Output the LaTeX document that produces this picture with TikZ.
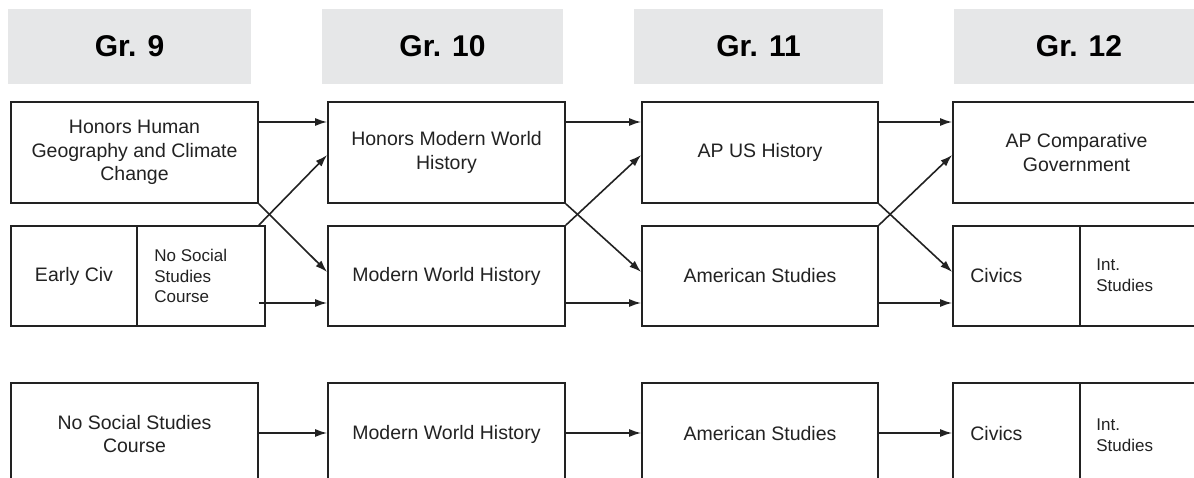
\documentclass[tikz,border=0pt]{standalone}
\usepackage{fontspec}
\setmainfont{Liberation Sans}
\usetikzlibrary{arrows.meta,calc}
\definecolor{hdrgray}{HTML}{E6E7E8}
\definecolor{ink}{HTML}{222222}
\begin{document}
\begin{tikzpicture}[x=1pt,y=-1pt,
  hdr/.style={fill=hdrgray,draw=none,inner sep=0pt,minimum height=75pt,
    font=\fontsize{30}{34}\selectfont\bfseries,text=black},
  box/.style={draw=ink,line width=1.7pt,inner sep=0pt,minimum height=101pt,
    align=center,font=\fontsize{19.5}{23.5}\selectfont,text=ink},
  lbl/.style={inner sep=0pt,align=left,font=\fontsize{19.5}{23.5}\selectfont,text=ink},
  small/.style={inner sep=0pt,align=left,font=\fontsize{17}{20.5}\selectfont,text=ink},
  arr/.style={draw=ink,line width=1.6pt,-{Latex[length=12pt,width=8pt]}}]
\clip (0,0) rectangle (1194,478);
\fill[white] (0,0) rectangle (1194,478);
% header row
\node[hdr,minimum width=243pt] (g9)  at (129.5,46.5) {Gr. 9};
\node[hdr,minimum width=241pt] (g10) at (442.5,46.5) {Gr. 10};
\node[hdr,minimum width=249pt] (g11) at (758.5,46.5) {Gr. 11};
\node[hdr,minimum width=250pt] (g12) at (1079,46.5) {Gr. 12};
% level coordinates
\coordinate (ya) at (0,122);
\coordinate (yb) at (0,155);
\coordinate (yc) at (0,272);
\coordinate (yd) at (0,303);
\coordinate (ye) at (0,433);
% row 1
\node[box,minimum width=247pt] (hhg)  at (134.5,152.5) {Honors Human\\Geography and Climate\\Change};
\node[box,minimum width=237pt] (hmwh) at (446.5,152.5) {Honors Modern World\\History};
\node[box,minimum width=236pt] (apus) at (760,152.5) {AP US History};
\node[box,minimum width=247pt] (apcg) at (1076.5,152.5) {AP Comparative\\Government};
% row 2
\node[box,minimum width=126pt,minimum height=100pt] (ec)   at (74,276) {Early Civ};
\node[box,minimum width=128pt,minimum height=100pt] (nssc) at (201,276) {};
\node[small,anchor=west] (nsscT) at ([xshift=18pt]nssc.west) {No Social\\Studies\\Course};
\node[box,minimum width=237pt,minimum height=100pt] (mwh) at (446.5,276) {Modern World History};
\node[box,minimum width=236pt,minimum height=100pt] (ams) at (760,276) {American Studies};
\node[box,minimum width=127pt,minimum height=100pt] (civ) at (1016.5,276) {};
\node[box,minimum width=120pt,minimum height=100pt] (ints) at (1140,276) {};
\node[lbl,anchor=west] (civT) at ([xshift=18pt]civ.west) {Civics};
\node[small,anchor=west] (intsT) at ([xshift=17pt,yshift=1pt]ints.west) {Int.\\Studies};
% row 3
\node[box,minimum width=247pt,minimum height=102pt] (nss3) at (134.5,434) {No Social Studies\\Course};
\node[box,minimum width=237pt,minimum height=102pt] (mwh3) at (446.5,434) {Modern World History};
\node[box,minimum width=236pt,minimum height=102pt] (ams3) at (760,434) {American Studies};
\node[box,minimum width=127pt,minimum height=102pt] (civ3) at (1016.5,434) {};
\node[box,minimum width=120pt,minimum height=102pt] (ints3) at (1140,434) {};
\node[lbl,anchor=west] (civ3T) at ([xshift=18pt]civ3.west) {Civics};
\node[small,anchor=west] (ints3T) at ([xshift=17pt,yshift=-1pt]ints3.west) {Int.\\Studies};
% arrows column 1 -> 2
\draw[arr] (hhg.east |- ya) -- (hmwh.west |- ya);
\draw[arr] (hhg.south east) -- (mwh.west |- yc);
\draw[arr] (hhg.east |- nssc.north) -- (hmwh.west |- yb);
\draw[arr] (hhg.east |- yd) -- (mwh.west |- yd);
% arrows column 2 -> 3
\draw[arr] (hmwh.east |- ya) -- (apus.west |- ya);
\draw[arr] (hmwh.south east) -- (ams.west |- yc);
\draw[arr] (mwh.north east) -- (apus.west |- yb);
\draw[arr] (mwh.east |- yd) -- (ams.west |- yd);
% arrows column 3 -> 4
\draw[arr] (apus.east |- ya) -- (apcg.west |- ya);
\draw[arr] (apus.south east) -- (civ.west |- yc);
\draw[arr] (ams.north east) -- (apcg.west |- yb);
\draw[arr] (ams.east |- yd) -- (civ.west |- yd);
% row 3 arrows
\draw[arr] (nss3.east |- ye) -- (mwh3.west |- ye);
\draw[arr] (mwh3.east |- ye) -- (ams3.west |- ye);
\draw[arr] (ams3.east |- ye) -- (civ3.west |- ye);
\end{tikzpicture}
\end{document}
